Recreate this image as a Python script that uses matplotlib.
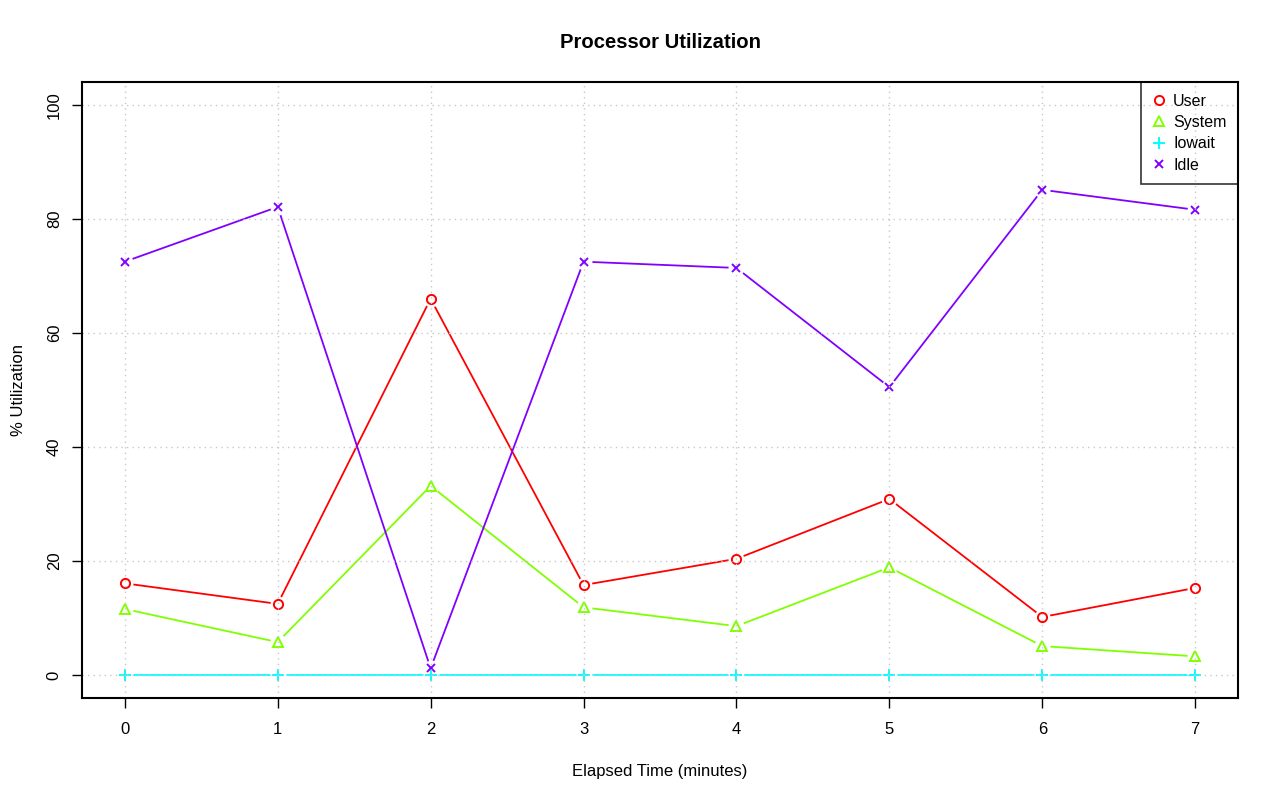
import matplotlib
matplotlib.use("Agg")
import matplotlib.pyplot as plt
from matplotlib.lines import Line2D

minutes = [0, 1, 2, 3, 4, 5, 6, 7]
user = [16.1, 12.5, 66.0, 15.8, 20.4, 30.9, 10.2, 15.3]
system = [11.6, 5.8, 33.2, 11.9, 8.6, 18.9, 5.1, 3.3]
iowait = [0, 0, 0, 0, 0, 0, 0, 0]
idle = [72.5, 82.1, 1.2, 72.5, 71.4, 50.5, 85.1, 81.6]
series_names = ["User", "System", "Iowait", "Idle"]

plt.rcParams['font.family'] = ['Liberation Sans', 'DejaVu Sans']
fig = plt.figure(figsize=(12.8, 8.01), dpi=100)
W, H = 1280, 801
ax = fig.add_axes([82 / W, 1 - 698 / H, (1238 - 82) / W, (698 - 82) / H])

colors = ["#FF0000", "#80FF00", "#00FFFF", "#8000FF"]
markers = ["o", "^", "+", "x"]
data = [user, system, iowait, idle]

# grid drawn on top, like R's grid() after plotting
for v in range(0, 101, 20):
    ax.axhline(v, color="#C8C8C8", linestyle=(0, (1, 3)), linewidth=1, zorder=5)
for m in minutes:
    ax.axvline(m, color="#C8C8C8", linestyle=(0, (1, 3)), linewidth=1, zorder=5)

def marker_kw(c, mk):
    if mk == "+":
        return dict(marker=mk, markersize=8, color=c, markeredgewidth=1.4)
    if mk == "x":
        return dict(marker=mk, markersize=6.3, color=c, markeredgewidth=1.4)
    if mk == "^":
        return dict(marker=mk, markersize=7.3, markerfacecolor="none", markeredgecolor=c,
                    markeredgewidth=1.4)
    return dict(marker=mk, markersize=6.6, markerfacecolor="none", markeredgecolor=c,
                markeredgewidth=1.4)

for d, c, mk in zip(data, colors, markers):
    ax.plot(minutes, d, color=c, linewidth=1.3, zorder=2)
for d, c, mk in zip(data, colors, markers):
    # gaps around points (R type = "b")
    ax.plot(minutes, d, linestyle="none", marker="o", markersize=11.5,
            markerfacecolor="white", markeredgecolor="none", zorder=3)
for d, c, mk in zip(data, colors, markers):
    ax.plot(minutes, d, linestyle="none", zorder=4, **marker_kw(c, mk))

ax.set_xlim(-0.28, 7.28)
ax.set_ylim(-4, 104)
ax.set_xticks(minutes)
ax.set_yticks(range(0, 101, 20))
ax.tick_params(axis='x', direction='out', length=7, width=1, labelsize=12, pad=10)
ax.tick_params(axis='y', direction='out', length=7, width=1, labelsize=12, pad=7.5)
for lbl in ax.get_yticklabels():
    lbl.set_rotation(90)
    lbl.set_va('center')
for s in ax.spines.values():
    s.set_linewidth(1.5)
    s.set_zorder(6)

ax.set_xlabel("Elapsed Time (minutes)", fontsize=12, labelpad=20)
ax.set_ylabel("% Utilization", fontsize=12, labelpad=15)
fig.text(660 / W, 1 - 42 / H, "Processor Utilization", fontsize=14.6, fontweight='bold',
         ha='center', va='center')

handles = [Line2D([], [], linestyle="none", **marker_kw(c, mk)) for c, mk in zip(colors, markers)]
leg = ax.legend(handles, series_names, loc="upper right", bbox_to_anchor=(1, 1),
                borderaxespad=0, fancybox=False, frameon=True, edgecolor="black",
                fontsize=11.5, handlelength=0.8, handletextpad=0.5, labelspacing=0.4,
                borderpad=0.72)
leg.get_frame().set_facecolor("none")
leg.get_frame().set_linewidth(1.2)
leg.set_zorder(7)

fig.savefig("out.png", dpi=100)
